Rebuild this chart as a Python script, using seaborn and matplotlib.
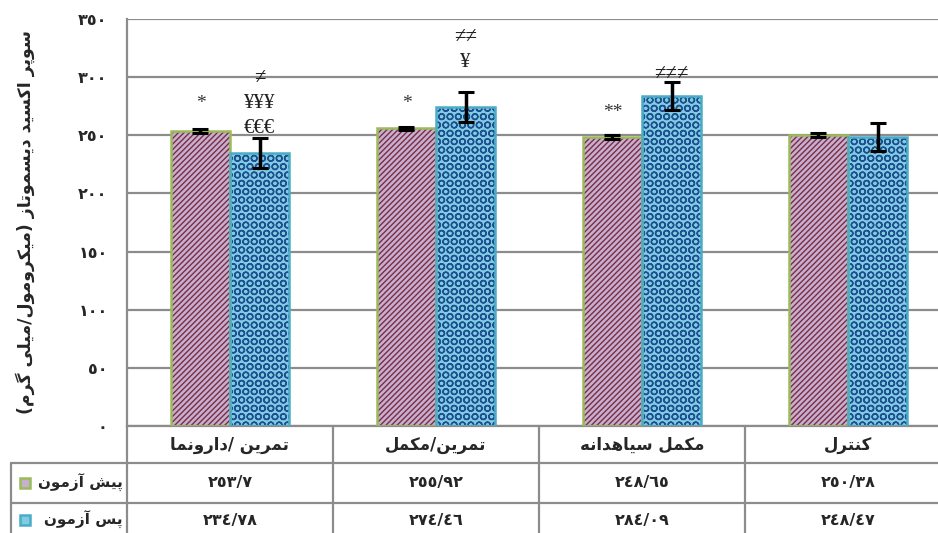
import matplotlib
matplotlib.use("Agg")
import matplotlib.pyplot as plt
import seaborn as sns
import pandas as pd
from matplotlib.patches import Rectangle
from matplotlib.lines import Line2D

# داده ها
groups = ["تمرین /دارونما", "تمرین/مکمل", "مکمل سیاهدانه", "کنترل"]
series = ["پیش آزمون", "پس آزمون"]
pre_mean = [253.7, 255.92, 248.65, 250.38]
post_mean = [234.78, 274.46, 284.09, 248.47]
pre_err = [2, 1.5, 1.5, 1.5]
post_err = [13, 13, 12, 12]
y_label = "سوپر اکسید دیسموتاز (میکرومول/میلی گرم)"
y_ticks = [0, 50, 100, 150, 200, 250, 300, 350]
pre_marks = ["*", "*", "**", ""]
pre_mark_y = [277, 277, 270, 0]
post_marks = [["≠", "¥¥¥", "€€€"], ["≠≠", "¥"], ["≠≠≠"], []]
post_mark_y = [[299, 277, 256], [334, 313], [302], []]

# شکل دادن به حروف فارسی (matplotlib خودش این کار را نمی کند)
FORMS = {
    'ا': ('\uFE8D', '\uFE8E', None, None),
    'آ': ('\uFE81', '\uFE82', None, None),
    'د': ('\uFEA9', '\uFEAA', None, None),
    'ر': ('\uFEAD', '\uFEAE', None, None),
    'ز': ('\uFEAF', '\uFEB0', None, None),
    'و': ('\uFEED', '\uFEEE', None, None),
    'پ': ('\uFB56', '\uFB57', '\uFB58', '\uFB59'),
    'ت': ('\uFE95', '\uFE96', '\uFE97', '\uFE98'),
    'س': ('\uFEB1', '\uFEB2', '\uFEB3', '\uFEB4'),
    'ش': ('\uFEB5', '\uFEB6', '\uFEB7', '\uFEB8'),
    'ک': ('\uFB8E', '\uFB8F', '\uFB90', '\uFB91'),
    'ك': ('\uFB8E', '\uFB8F', '\uFB90', '\uFB91'),
    'گ': ('\uFB92', '\uFB93', '\uFB94', '\uFB95'),
    'ل': ('\uFEDD', '\uFEDE', '\uFEDF', '\uFEE0'),
    'م': ('\uFEE1', '\uFEE2', '\uFEE3', '\uFEE4'),
    'ن': ('\uFEE5', '\uFEE6', '\uFEE7', '\uFEE8'),
    'ه': ('\uFEE9', '\uFEEA', '\uFEEB', '\uFEEC'),
    'ی': ('\uFBFC', '\uFBFD', '\uFBFE', '\uFBFF'),
    'ي': ('\uFBFC', '\uFBFD', '\uFBFE', '\uFBFF'),
}


def fa(text):
    out = []
    for i, ch in enumerate(text):
        if ch not in FORMS:
            out.append(ch)
            continue
        iso, fin, ini, med = FORMS[ch]
        prev = text[i - 1] if i > 0 else ''
        nxt = text[i + 1] if i + 1 < len(text) else ''
        jp = prev in FORMS and FORMS[prev][2] is not None
        jn = ini is not None and nxt in FORMS
        out.append(med if (jp and jn) else fin if jp else ini if jn else iso)
    vis = ''.join(reversed(out))
    return vis.translate(str.maketrans('()', ')('))


DIG = str.maketrans('0123456789.', '٠١٢٣٤٥٦٧٨٩/')


def fa_num(v):
    return f"{v:g}".translate(DIG)


sns.set_style("white")
plt.rcParams['font.family'] = ['DejaVu Sans']
plt.rcParams['hatch.linewidth'] = 1.0

pre_face, pre_hatch, pre_edge = '#c6b0d2', '#7d2c40', '#9bbb59'
post_face, post_hatch, post_edge = '#80cce4', '#1f4f8f', '#4bacc6'
grid_col = '#8c8c8c'

W, H = 938, 533
fig = plt.figure(figsize=(W / 100, H / 100), dpi=100)
ax = fig.add_axes([127 / W, 1 - 426 / H, 824 / W, 407 / H])

df = pd.DataFrame({
    'group': groups * 2,
    'series': [series[0]] * len(groups) + [series[1]] * len(groups),
    'value': pre_mean + post_mean,
})
sns.barplot(data=df, x='group', y='value', hue='series', order=groups, hue_order=series,
            palette=[pre_face, post_face], width=0.573, errorbar=None, legend=False,
            saturation=1, ax=ax, zorder=2)

styles = [(pre_hatch, '//////', pre_edge, pre_err), (post_hatch, 'OO', post_edge, post_err)]
bars_by_series = list(ax.containers)[:2]
for cont, (hcol, hatch, edge, errs) in zip(bars_by_series, styles):
    for bar, e in zip(cont, errs):
        bar.set_hatch(hatch)
        bar.set_edgecolor(hcol)
        bar.set_linewidth(0)
        ax.add_patch(Rectangle((bar.get_x(), 0), bar.get_width(), bar.get_height(),
                               fill=False, edgecolor=edge, lw=1.8, zorder=3))
        ax.errorbar(bar.get_x() + bar.get_width() / 2, bar.get_height(), yerr=e,
                    color='black', capsize=6, capthick=2.2, elinewidth=2.5, zorder=5)

# نشانه های معنی داری
for i, bar in enumerate(bars_by_series[0]):
    if pre_marks[i]:
        ax.text(bar.get_x() + bar.get_width() / 2, pre_mark_y[i], pre_marks[i],
                ha='center', va='center', fontsize=14, family='Liberation Serif', color='#333333')
for i, bar in enumerate(bars_by_series[1]):
    for m, y in zip(post_marks[i], post_mark_y[i]):
        ax.text(bar.get_x() + bar.get_width() / 2, y, m, ha='center', va='center',
                fontsize=15, family='Liberation Serif', color='#222222')

ax.set_ylim(0, 350)
ax.set_xlim(-0.5, len(groups) - 0.5)
ax.set_yticks(y_ticks)
ax.set_yticklabels([str(t).translate(DIG) for t in y_ticks], fontweight='bold', fontsize=11.5)
ax.yaxis.grid(True, color=grid_col, lw=1.6)
ax.set_axisbelow(True)
ax.set_xticks([])
ax.set_xlabel('')
ax.set_ylabel('')
ax.tick_params(axis='y', direction='out', length=6, color=grid_col, width=1.5, pad=8)
for s in ['top', 'right']:
    ax.spines[s].set_visible(False)
for s in ['left', 'bottom']:
    ax.spines[s].set_color(grid_col)
    ax.spines[s].set_linewidth(1.6)

fig.text(25 / W, 1 - 222 / H, fa(y_label), rotation=90, ha='center', va='center',
         fontsize=12.5, fontweight='bold')

# جدول داده ها زیر نمودار
def fx(xd):
    return fig.transFigure.inverted().transform(ax.transData.transform((xd, 0)))[0]


def fy(py):
    return 1 - py / H


def hline(x0, x1, py):
    fig.add_artist(Line2D([x0, x1], [fy(py), fy(py)], transform=fig.transFigure,
                          color=grid_col, lw=1.6))


def vline(x, py0, py1):
    fig.add_artist(Line2D([x, x], [fy(py0), fy(py1)], transform=fig.transFigure,
                          color=grid_col, lw=1.6))


right = fx(len(groups) - 0.5)
hline(11 / W, right, 463)
hline(11 / W, right, 503)
vline(11 / W, 463, H)
for k in range(len(groups)):
    vline(fx(k - 0.5), 426, H)

for k, g in enumerate(groups):
    fig.text(fx(k), fy(445), fa(g), ha='center', va='center', fontsize=12, fontweight='bold')
    fig.text(fx(k), fy(483), fa_num(pre_mean[k]), ha='center', va='center',
             fontsize=11.5, fontweight='bold')
    fig.text(fx(k), fy(520), fa_num(post_mean[k]), ha='center', va='center',
             fontsize=11.5, fontweight='bold')

row_y = [483, 520]
for (face, hcol, edge, hatch), name, py in zip(
        [(pre_face, pre_hatch, pre_edge, '//'), (post_face, post_hatch, post_edge, '')],
        series, row_y):
    fig.text(123 / W, fy(py), fa(name), ha='right', va='center', fontsize=11,
             fontweight='bold')
    fig.add_artist(Rectangle((20 / W, fy(py + 5)), 10 / W, 10 / H, transform=fig.transFigure,
                             facecolor=face, edgecolor=edge, lw=1.8))

fig.savefig('out.png', dpi=100)
